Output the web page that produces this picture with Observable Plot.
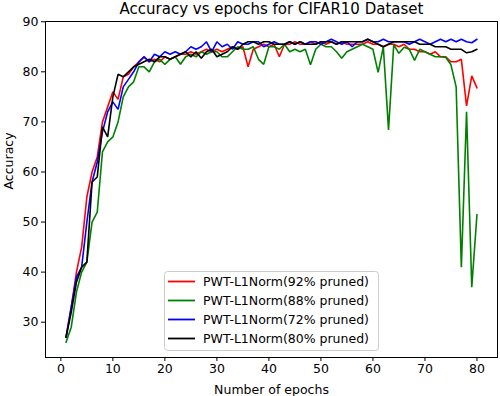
<!DOCTYPE html>
<html>
<head>
<meta charset="utf-8">
<script src="https://cdn.jsdelivr.net/npm/d3@7"></script>
<script src="https://cdn.jsdelivr.net/npm/@observablehq/plot@0.6"></script>
<style>
  html, body { margin: 0; padding: 0; background: white; }
  #chart { width: 500px; height: 396px; }
</style>
</head>
<body>
<div id="chart"></div>
<script>
const titleText = "Accuracy vs epochs for CIFAR10 Dataset";
const xLabel = "Number of epochs";
const yLabel = "Accuracy";
const xTicks = [0, 10, 20, 30, 40, 50, 60, 70, 80];
const yTicks = [30, 40, 50, 60, 70, 80, 90];
const seriesNames = ["PWT-L1Norm(92% pruned)", "PWT-L1Norm(88% pruned)", "PWT-L1Norm(72% pruned)", "PWT-L1Norm(80% pruned)"];
const seriesColors = ["#ff0000", "#008000", "#0000ff", "#000000"];
const epochs = [1,2,3,4,5,6,7,8,9,10,11,12,13,14,15,16,17,18,19,20,21,22,23,24,25,26,27,28,29,30,31,32,33,34,35,36,37,38,39,40,41,42,43,44,45,46,47,48,49,50,51,52,53,54,55,56,57,58,59,60,61,62,63,64,65,66,67,68,69,70,71,72,73,74,75,76,77,78,79,80];

const acc92 = [27,33,40,45,55,60,63,70,73,76, 74.5,79,79.5,81,82,83,82,82.5,82,83, 82.5,83,83.5,83.5,84,83.5,84,84.5,84,84.5, 84,84.5,85,84.5,85,81,84.5,85,85.5,85, 85.5,83,85.5,85.5,86,85.5,85.5,86,85.5,86, 85.5,86,85.5,86,85.5,85.5,85.5,85.5,86,85.5, 85.5,85,85.5,85.5,85,85.5,84.5,84.5,84,84, 83.5,84,83,83,82,82,82.5,73.2,79.2,76.8];
const acc88 = [26,29,36,40,42,50,52,64,66,67, 70,75,77,78,81,81,80,82,82.5,81.5, 82.5,83,81.5,83,83.5,83,84,83.5,84,84, 83,83,84,85,84.5,84.5,85,82.5,81.5,85, 85,84.5,85.5,84,84.5,84,84.5,81.4,84.5,85.5, 85,85,84,82.7,84,84.5,85,85.5,85,84.5, 79.9,85,68.4,85.4,83.7,84.9,84.5,82.3,84.5,84, 83.5,83,83,82.9,81.4,77,41,72,37,51.5];
const acc72 = [27,33,39,41,50,58,62,68,72,74, 72.5,77,78.5,80,82,83,82,83.5,83,84, 83.5,84,83.5,84,85,84.5,85,86,84,86, 85,85.5,84.5,86,85.5,85.5,86,86,85,85.5, 86,85.5,85.5,86,85.5,86,85.5,86,86,85.5, 86,86.5,86,85.5,86,85,86,86,86.5,86, 86,86.5,86,86,86,86,85.5,86,86.5,86, 85.5,86,86.5,86,86.5,86,86.5,86,85.8,86.5];
const acc80 = [27,32,38,41,42,58,59,69,67,75, 79.5,79,80,81,81.5,82,82.5,82,83,83, 82.5,83,83.5,84,83,84,82.7,84,84.5,83, 83.5,84,85,84.5,85.5,86,86,85.5,86,86, 85.5,85.5,85.5,86,85.5,86,85.5,85.5,85.5,86, 86,86,85.5,86,86,86,86,86,86.5,86, 85.5,85,85.5,86,86,86,86,86,85.5,85.5, 85.5,85,85,85,84.5,84.5,84.5,83.8,84,84.5];

const allSeries = [acc92, acc88, acc72, acc80];
const data = [];
allSeries.forEach((vals, si) => {
  vals.forEach((v, i) => data.push({series: seriesNames[si], epoch: epochs[i], acc: v}));
});

const font = "'DejaVu Sans', sans-serif";

const chart = Plot.plot({
  width: 500,
  height: 396,
  marginLeft: 45,
  marginRight: 3,
  marginTop: 21,
  marginBottom: 39,
  style: {fontFamily: font, fontSize: "12.5px", color: "black", background: "white"},
  x: {domain: [-2.95, 83.95]},
  y: {domain: [22.95, 90.05]},
  color: {domain: seriesNames, range: seriesColors},
  marks: [
    Plot.line(data, {x: "epoch", y: "acc", z: "series", stroke: "series", strokeWidth: 1.6, strokeLinejoin: "miter"}),
    Plot.frame({stroke: "black", strokeWidth: 1}),
    Plot.axisX({ticks: xTicks, tickSize: 4, tickPadding: 3, tickFormat: d => String(d), label: null, fontSize: 12.5}),
    Plot.axisY({ticks: yTicks, tickSize: 4, tickPadding: 3, tickFormat: d => String(d), label: null, fontSize: 12.5}),
    Plot.text([xLabel], {frameAnchor: "bottom", lineAnchor: "middle", dy: 32, fontSize: 12.5, fill: "black"}),
    Plot.text([yLabel], {frameAnchor: "left", dx: -37, rotate: -90, fontSize: 12.5, fill: "black"}),
    Plot.text([titleText], {frameAnchor: "top", lineAnchor: "middle", dy: -12.5, fontSize: 15, fill: "black"})
  ]
});

document.getElementById("chart").appendChild(chart);

// Legend (matplotlib style box)
const svg = d3.select(chart);
const lg = svg.append("g").attr("font-family", font).attr("font-size", 12.5).attr("text-anchor", "start");
lg.append("rect")
  .attr("x", 164.5).attr("y", 271.5).attr("width", 214).attr("height", 79).attr("rx", 3)
  .attr("fill", "white").attr("fill-opacity", 0.85).attr("stroke", "#cccccc");
const rowY = [281.5, 300.5, 319.5, 338.5];
seriesNames.forEach((name, i) => {
  lg.append("line")
    .attr("x1", 168).attr("x2", 195).attr("y1", rowY[i]).attr("y2", rowY[i])
    .attr("stroke", seriesColors[i]).attr("stroke-width", 1.8);
  lg.append("text")
    .attr("x", 203).attr("y", rowY[i]).attr("dy", "0.35em")
    .attr("text-anchor", "start")
    .attr("fill", "black").text(name);
});
</script>
</body>
</html>
